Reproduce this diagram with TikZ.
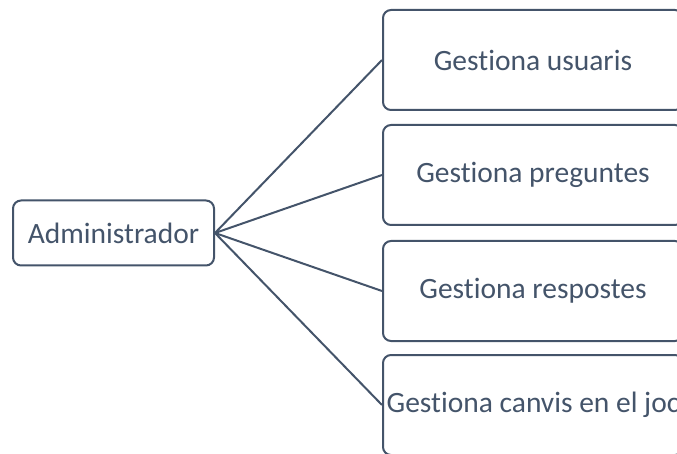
\documentclass[tikz,border=0pt]{standalone}
\usepackage{fontspec}
\setmainfont{Carlito}[Ligatures=NoCommon]
\definecolor{slate}{HTML}{44546A}
\begin{document}
\begin{tikzpicture}[x=1pt,y=-1pt,
  box/.style={draw=slate, line width=2pt, rounded corners=8pt, fill=white, inner sep=0pt, text=slate, font=\fontsize{29.5}{34}\selectfont},
  link/.style={draw=slate, line width=2pt}]
\useasboundingbox (0,0) rectangle (677,454);
\clip (0,0) rectangle (677,454);
\node[box, minimum width=201pt, minimum height=65pt] (adm) at (113.5,233) {Administrador};
\node[box, minimum width=300pt, minimum height=100pt] (b1) at (533,60) {Gestiona usuaris};
\node[box, minimum width=300pt, minimum height=100pt] (b2) at (533,175) {Gestiona preguntes};
\node[box, minimum width=300pt, minimum height=100pt] (b3) at (533,291) {Gestiona respostes};
\node[box, minimum width=300pt, minimum height=100pt] (b4) at (533,405) {};
\node[text=slate, font=\fontsize{29.5}{34}\selectfont, inner sep=0pt] (t4) at (533,405) {Gestiona canvis en el joc};
\draw[link] (adm.east) -- (b1.west);
\draw[link] (adm.east) -- (b2.west);
\draw[link] (adm.east) -- (b3.west);
\draw[link] (adm.east) -- (b4.west);
\end{tikzpicture}
\end{document}
